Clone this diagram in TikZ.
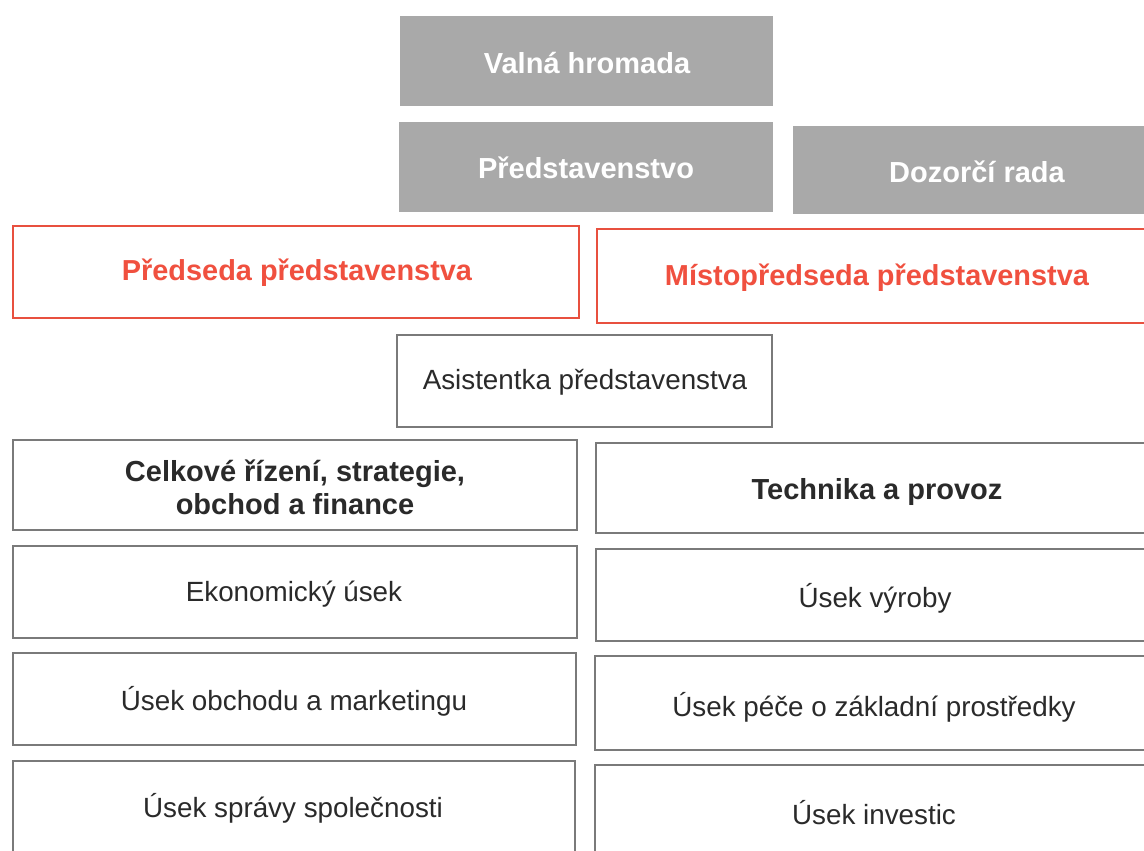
\documentclass[tikz,border=0pt]{standalone}
\usepackage{fontspec}
\setmainfont{Liberation Sans}
\definecolor{boxgrey}{HTML}{A9A9A9}
\definecolor{redline}{HTML}{E8503F}
\definecolor{redtext}{HTML}{F0503F}
\definecolor{darktext}{HTML}{2A2A2A}
\definecolor{edge}{HTML}{7A7A7A}
\tikzset{
  greybox/.style={fill=boxgrey, draw=none},
  redbox/.style={draw=redline, line width=1.6pt, fill=white},
  plainbox/.style={draw=edge, line width=1.3pt, fill=white},
  greytext/.style={text=white, font=\fontsize{29}{32}\selectfont\bfseries},
  redtxt/.style={text=redtext, font=\fontsize{28.9}{32}\selectfont\bfseries},
  plaintext/.style={text=darktext, font=\fontsize{27.8}{32}\selectfont},
  headtext/.style={text=darktext, font=\fontsize{29}{33}\selectfont\bfseries, align=center}
}
\newcommand{\boxat}[6]{% name, style, x1, y1, x2, y2
  \path[#2] (#3,#4) rectangle (#5,#6);
  \coordinate (#1) at ({(#3+#5)/2},{(#4+#6)/2});
}
\begin{document}
\begin{tikzpicture}[x=1pt,y=-1pt]
\useasboundingbox (0,0) rectangle (1144,851);
\clip (0,0) rectangle (1144,851);
\fill[white] (0,0) rectangle (1144,851);
% top grey boxes
\boxat{vh}{greybox}{400}{16}{773}{106}
\node[greytext] (vht) at (587,63) {Valná hromada};
\boxat{pr}{greybox}{399}{122}{773}{212}
\node[greytext] (prt) at (586,168) {Představenstvo};
\boxat{dr}{greybox}{793}{126}{1150}{214}
\node[greytext] (drt) at (977,172) {Dozorčí rada};
% red boxes
\boxat{ps}{redbox}{13}{226}{579}{318}
\node[redtxt] (pst) at (297,273) {Předseda představenstva};
\boxat{mp}{redbox}{597}{229}{1150}{323}
\node[redtxt] (mpt) at (877,278) {Místopředseda představenstva};
% assistant
\boxat{as}{plainbox}{397}{335}{772}{427}
\node[plaintext] (ast) at (585,382) {Asistentka představenstva};
% column heads
\boxat{ce}{plainbox}{13}{440}{577}{530}
\node[headtext] (cet) at (295,487) {Celkové řízení, strategie,\\obchod a finance};
\boxat{te}{plainbox}{596}{443}{1150}{533}
\node[headtext] (tet) at (877,492) {Technika a provoz};
% departments left
\boxat{ek}{plainbox}{13}{546}{577}{638}
\node[plaintext] (ekt) at (294,594) {Ekonomický úsek};
\boxat{ob}{plainbox}{13}{653}{576}{745}
\node[plaintext] (obt) at (294,701) {Úsek obchodu a marketingu};
\boxat{sp}{plainbox}{13}{761}{575}{860}
\node[plaintext] (spt) at (293,808) {Úsek správy společnosti};
% departments right
\boxat{vy}{plainbox}{596}{549}{1150}{641}
\node[plaintext] (vyt) at (875,598) {Úsek výroby};
\boxat{pe}{plainbox}{595}{656}{1150}{750}
\node[plaintext] (pet) at (874,707) {Úsek péče o základní prostředky};
\boxat{in}{plainbox}{595}{765}{1150}{860}
\node[plaintext] (int) at (874,813) {Úsek investic};
\end{tikzpicture}
\end{document}
